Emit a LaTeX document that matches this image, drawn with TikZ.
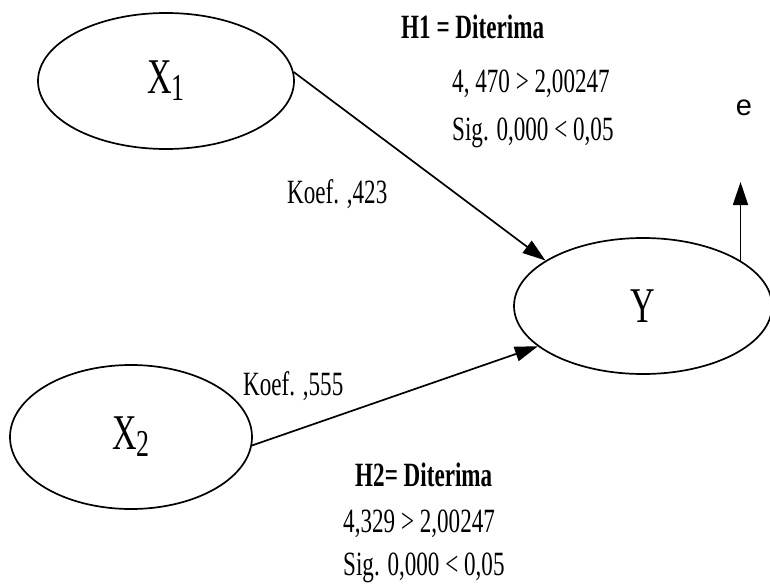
\documentclass[tikz,border=0pt]{standalone}
\usepackage{fontspec}
\setmainfont{Liberation Serif}
\newfontfamily\narrowserif[FakeStretch=0.68]{Liberation Serif}
\newfontfamily\sanslabel{Liberation Sans}
\usetikzlibrary{shapes.geometric,arrows.meta}

\begin{document}
\begin{tikzpicture}[x=1pt,y=-1pt,
  latent/.style={ellipse,draw,line width=1.7pt,inner sep=0pt,
    font=\narrowserif\fontsize{50}{50}\selectfont},
  pathline/.style={line width=1.7pt,-{Triangle[length=23pt,width=15pt]}},
  txt/.style={anchor=base west,inner sep=0pt,
    font=\narrowserif\fontsize{34}{36}\selectfont},
  boldtxt/.style={txt,font=\narrowserif\bfseries\fontsize{34}{36}\selectfont}
]
\useasboundingbox (0,0) rectangle (770,586);

% latent variables
\node[latent,minimum width=256pt,minimum height=136pt] (X1) at (166,81)
  {X\raisebox{-7pt}{\fontsize{38}{38}\selectfont 1}};
\node[latent,minimum width=242pt,minimum height=144pt] (X2) at (131,437)
  {X\raisebox{-7pt}{\fontsize{38}{38}\selectfont 2}};
\node[latent,minimum width=258pt,minimum height=136pt] (Y) at (643,306) {Y};

% paths
\draw[pathline] (X1.4) -- (Y.155);
\draw[pathline] (X2.-4) -- (Y.201);
\coordinate (etip) at (739,182);
\draw[pathline] (Y.25) -- (Y.25 |- etip);
\node[font=\sanslabel\fontsize{29}{29}\selectfont] (e) at (744,108) {e};

% hypothesis H1
\node[boldtxt] (h1) at (401,39) {H1 = Diterima};
\node[txt] (h1t) at (452,92) {4, 470 > 2,00247};
\node[txt] (h1s) at (452,140) {Sig. 0,000 < 0,05};
\node[txt] (k1) at (287,203) {Koef. ,423};

% hypothesis H2
\node[txt] (k2) at (243,395) {Koef. ,555};
\node[boldtxt] (h2) at (355,486) {H2= Diterima};
\node[txt] (h2t) at (343,532) {4,329 > 2,00247};
\node[txt] (h2s) at (343,575) {Sig. 0,000 < 0,05};
\end{tikzpicture}
\end{document}
